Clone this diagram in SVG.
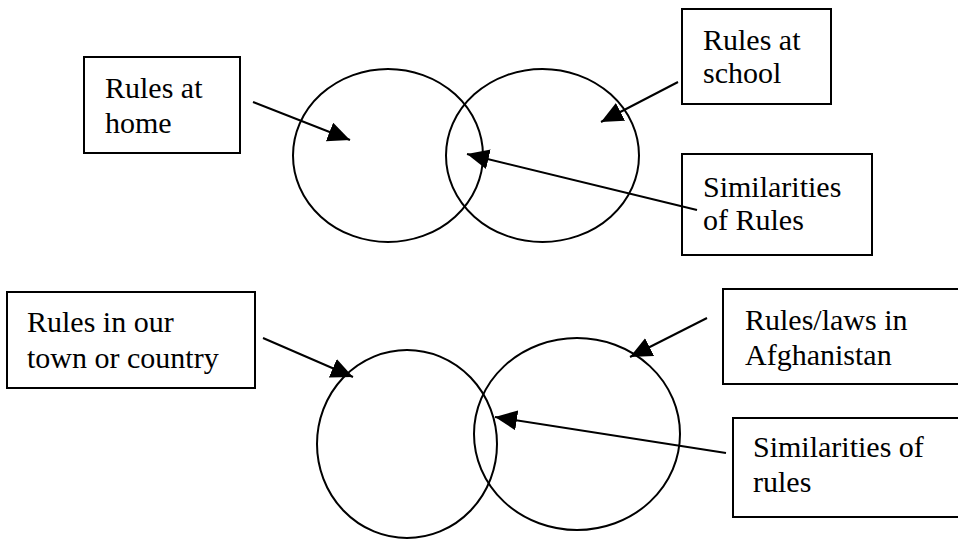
<svg xmlns="http://www.w3.org/2000/svg" width="958" height="539" viewBox="0 0 958 539">
<style>
.box{fill:#fff;stroke:#000;stroke-width:2}
.c{fill:none;stroke:#000;stroke-width:2}
.t{font-size:30px;fill:#000}
.a{stroke:#000;stroke-width:2;fill:none;marker-end:url(#ah)}
</style>
<defs>
<marker id="ah" markerUnits="userSpaceOnUse" markerWidth="24" markerHeight="22" refX="22" refY="10" orient="auto" viewBox="0 0 24 22">
<path d="M0,0 L22,10 L0,20 z" fill="#000"/>
</marker>
</defs>
<rect width="958" height="539" fill="#fff"/>
<g id="circles">
<ellipse id="c-home" class="c" cx="388" cy="155.5" rx="95" ry="86.5"/>
<ellipse id="c-school" class="c" cx="542.5" cy="155.5" rx="96.5" ry="86.5"/>
<ellipse id="c-town" class="c" cx="407" cy="444" rx="90" ry="94"/>
<ellipse id="c-afg" class="c" cx="577" cy="434" rx="103" ry="96"/>
</g>
<g font-family="Liberation Serif, Times New Roman, Tinos, Noto Serif, DejaVu Serif, FreeSerif, serif">
<g id="n-home">
<rect class="box" x="84" y="57" width="156" height="96"/>
<text class="t" x="105" y="98">Rules at</text>
<text class="t" x="105" y="133">home</text>
</g>
<g id="n-school">
<rect class="box" x="682" y="9" width="149" height="95"/>
<text class="t" x="703" y="50">Rules at</text>
<text class="t" x="703" y="83">school</text>
</g>
<g id="n-sim1">
<rect class="box" x="682" y="154" width="190" height="101"/>
<text class="t" x="703" y="197">Similarities</text>
<text class="t" x="703" y="230">of Rules</text>
</g>
<g id="n-town">
<rect class="box" x="7" y="292" width="248" height="96"/>
<text class="t" x="27" y="332">Rules in our</text>
<text class="t" x="27" y="368">town or country</text>
</g>
<g id="n-afg">
<rect class="box" x="723" y="289" width="236" height="95"/>
<text class="t" x="745" y="330">Rules/laws in</text>
<text class="t" x="745" y="365">Afghanistan</text>
</g>
<g id="n-sim2">
<rect class="box" x="733" y="418" width="226" height="99"/>
<text class="t" x="753" y="457">Similarities of</text>
<text class="t" x="753" y="492">rules</text>
</g>
</g>
<g id="connectors">
<line class="a" x1="253" y1="102" x2="350" y2="140"/>
<line class="a" x1="678" y1="82" x2="601" y2="122"/>
<line class="a" x1="697" y1="210" x2="467" y2="154"/>
<line class="a" x1="263" y1="338" x2="353" y2="377"/>
<line class="a" x1="707" y1="318" x2="630" y2="357"/>
<line class="a" x1="726" y1="453" x2="495" y2="417"/>
</g>
</svg>
